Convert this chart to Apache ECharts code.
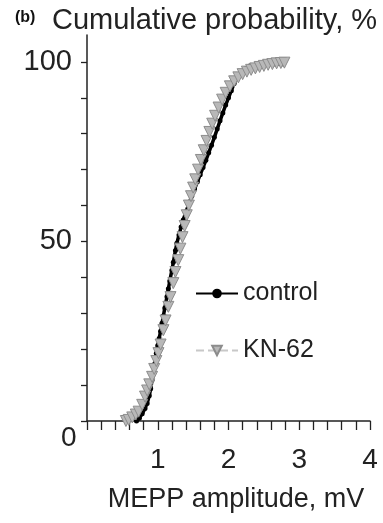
<!DOCTYPE html>
<html>
<head>
<meta charset="utf-8">
<script src="https://cdn.jsdelivr.net/npm/echarts@6/dist/echarts.min.js"></script>
<style>
html,body{margin:0;padding:0;background:#fff;}
#c{width:383px;height:523px;}
</style>
</head>
<body>
<div id="c"></div>
<script>
// Data (x: MEPP amplitude mV, y: cumulative probability %)
const controlData = [
  [0.70,0],[0.74,0.8],[0.78,2],[0.82,3.5],[0.85,4.9],[0.88,7],[0.90,9],[0.92,11.4],
  [0.94,13.5],[0.96,16],[0.98,18.9],[1.00,21],[1.02,23],[1.04,25],[1.06,27.2],[1.08,29.3],
  [1.10,31.5],[1.13,34.6],[1.15,36.8],[1.17,39],[1.20,42],[1.22,44.2],[1.25,47.5],[1.27,49.5],
  [1.30,51.8],[1.33,54],[1.36,56],[1.40,58.3],[1.44,60.5],[1.48,62.6],[1.52,64.6],[1.56,66.6],
  [1.60,68.6],[1.64,70.6],[1.68,72.6],[1.72,74.7],[1.76,76.8],[1.80,79],[1.84,81.3],[1.88,83.6],
  [1.92,85.8],[1.96,88],[2.00,90],[2.04,92],[2.08,94],[2.12,95.6],[2.17,97],[2.23,98.1],
  [2.30,98.9],[2.39,99.3],[2.48,99.4],[2.57,99.4],[2.66,99.4],[2.75,99.4]
];
const kn62Data = [
  [0.55,0],[0.59,0.3],[0.64,1.0],[0.69,1.8],[0.73,2.6],[0.78,4.5],[0.82,6.8],[0.85,8.5],
  [0.88,10.2],[0.92,12.3],[0.95,14.5],[0.98,16.7],[1.01,18.9],[1.04,21.3],[1.08,25.3],[1.11,28],
  [1.15,31.8],[1.18,34.5],[1.22,38.4],[1.25,41.5],[1.29,44.8],[1.32,48],[1.35,51.2],[1.38,54.3],
  [1.41,57.3],[1.44,60],[1.47,62.6],[1.50,65],[1.53,67.3],[1.57,70],[1.61,72.7],[1.65,75.4],
  [1.69,78],[1.73,80.5],[1.77,82.8],[1.81,85],[1.86,87.3],[1.91,89.5],[1.96,91.4],[2.02,93.2],
  [2.08,94.6],[2.14,95.7],[2.20,96.6],[2.26,97.3],[2.32,97.8],[2.38,98.2],[2.44,98.6],[2.50,98.9],
  [2.56,99.2],[2.62,99.4],[2.68,99.6],[2.74,99.7],[2.79,99.8]
];
const seriesNames = ['control', 'KN-62'];
const xTicks = [0,0.2,0.4,0.6,0.8,1,1.2,1.4,1.6,1.8,2,2.2,2.4,2.6,2.8,3,3.2,3.4,3.6,3.8,4];
const xTickLabels = [1,2,3,4];
const yTicks = [0,10,20,30,40,50,60,70,80,90,100];
const yTickLabels = [50,100];

const FONT = '"Liberation Sans", Arial, sans-serif';
const chart = echarts.init(document.getElementById('c'), null, {renderer:'canvas'});
chart.setOption({
  animation:false,
  backgroundColor:'#fff',
  grid:{left:87, right:13, top:35, bottom:102},
  title:[
    {text:'(b)', left:10, top:5, textStyle:{fontFamily:FONT, fontSize:16, fontWeight:'bold', color:'#111'}},
    {text:'Cumulative probability, %', left:47, top:1, textStyle:{fontFamily:FONT, fontSize:29, fontWeight:'normal', color:'#222'}}
  ],
  graphic:[
    {type:'text', left:61, top:424, style:{text:'0', font:'28px "Liberation Sans", Arial, sans-serif', fill:'#222'}}
  ],
  legend:{
    orient:'vertical', left:190, top:276, itemWidth:42, itemHeight:12, itemGap:32,
    textStyle:{fontFamily:FONT, fontSize:25, color:'#222'},
    data:seriesNames
  },
  xAxis:{
    type:'value', min:0, max:4,
    name:'MEPP amplitude, mV', nameLocation:'middle', nameGap:65,
    nameTextStyle:{fontFamily:FONT, fontSize:27, color:'#222', padding:[0,0,0,15]},
    axisLine:{lineStyle:{color:'#222', width:1.5}},
    axisTick:{show:true, length:9, customValues:xTicks, lineStyle:{color:'#222', width:1.3}},
    axisLabel:{customValues:xTickLabels, margin:25, fontFamily:FONT, fontSize:28, color:'#222'},
    splitLine:{show:false}
  },
  yAxis:{
    type:'value', min:0, max:107.5,
    axisLine:{show:true, lineStyle:{color:'#222', width:1.5}},
    axisTick:{show:true, length:6, customValues:yTicks, lineStyle:{color:'#222', width:1.3}},
    axisLabel:{customValues:yTickLabels, margin:15, fontFamily:FONT, fontSize:29, color:'#222'},
    splitLine:{show:false}
  },
  series:[
    {
      name:seriesNames[0], type:'line', data:controlData,
      symbol:'circle', symbolSize:5, showSymbol:true,
      lineStyle:{color:'#000', width:3.5},
      itemStyle:{color:'#000'}, z:2
    },
    {
      name:seriesNames[1], type:'line', data:kn62Data,
      symbol:'triangle', symbolRotate:180, symbolSize:11, showSymbol:true,
      lineStyle:{color:'#c8c8c8', width:1, type:'dashed'},
      itemStyle:{color:'#b8b8b8', borderColor:'#8c8c8c', borderWidth:1}, z:3
    }
  ]
});
</script>
</body>
</html>
